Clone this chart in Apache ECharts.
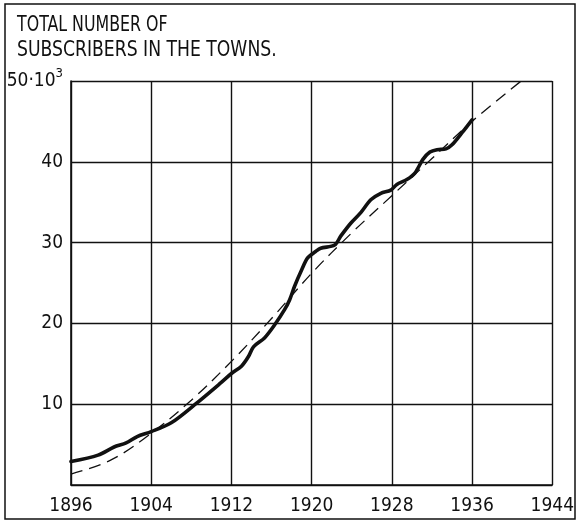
<!DOCTYPE html>
<html>
<head>
<meta charset="utf-8">
<script src="https://cdn.jsdelivr.net/npm/echarts@6/dist/echarts.min.js"></script>
<style>
  html, body { margin: 0; padding: 0; background: #fff; }
  #chart { width: 577px; height: 522px; }
</style>
</head>
<body>
<div id="chart"></div>
<script>
// Years and tick values
const yearTicks = [1896, 1904, 1912, 1920, 1928, 1936, 1944];
const valueTicks = [0, 10, 20, 30, 40, 50];

// Recorded number of subscribers (thousands) — [year, value]
const subscribers = [
  [1896, 2.9], [1898.7, 3.7], [1900.3, 4.7], [1901.5, 5.2], [1902.6, 6.0],
  [1904, 6.6], [1906, 7.7], [1908.4, 10.0], [1910.9, 12.6], [1912, 13.8],
  [1913, 14.7], [1913.7, 15.9], [1914.2, 17.1], [1915.3, 18.2], [1916.3, 19.8],
  [1917.3, 21.7], [1917.8, 22.9], [1918.3, 24.6], [1919, 26.6], [1919.6, 28.1],
  [1920.4, 28.9], [1920.9, 29.3], [1922.3, 29.7], [1922.9, 30.8], [1923.9, 32.4],
  [1924.9, 33.7], [1925.9, 35.3], [1926.9, 36.1], [1927.9, 36.5], [1928.5, 37.2],
  [1929.5, 37.8], [1930.3, 38.6], [1931.1, 40.3], [1931.8, 41.2], [1932.5, 41.5],
  [1933.4, 41.6], [1934, 42.1], [1935, 43.6], [1936, 45.2]
];

// Smoothed trend curve (thousands) — [year, value]
const trend = [
  [1896, 1.35], [1900, 3.1], [1904, 6.4], [1908, 10.5], [1912, 15.3],
  [1916, 20.6], [1920, 26.2], [1924, 31.2], [1928, 35.8], [1932, 40.4],
  [1936, 45.0], [1940.9, 50]
];

const titleLines = ['TOTAL NUMBER OF', 'SUBSCRIBERS IN THE TOWNS.'];

const FONT = '"DejaVu Sans Condensed", "DejaVu Sans", sans-serif';
const INK = '#111';

const chart = echarts.init(document.getElementById('chart'), null, { renderer: 'canvas' });

chart.setOption({
  animation: false,
  backgroundColor: '#fff',
  grid: { left: 71, right: 20, top: 81, bottom: 37, containLabel: false },
  xAxis: {
    type: 'value',
    min: yearTicks[0],
    max: yearTicks[yearTicks.length - 1],
    interval: yearTicks[1] - yearTicks[0],
    axisLine: { show: true, lineStyle: { color: INK, width: 1.6 } },
    axisTick: { show: false },
    splitLine: { show: true, lineStyle: { color: INK, width: 1.4 } },
    axisLabel: {
      margin: 12,
      fontFamily: FONT,
      fontSize: 19,
      color: INK,
      showMinLabel: true,
      showMaxLabel: true,
      formatter: v => String(v)
    }
  },
  yAxis: {
    type: 'value',
    min: valueTicks[0],
    max: valueTicks[valueTicks.length - 1],
    interval: valueTicks[1] - valueTicks[0],
    axisLine: { show: true, lineStyle: { color: INK, width: 1.6 } },
    axisTick: { show: false },
    splitLine: { show: true, lineStyle: { color: INK, width: 1.4 } },
    axisLabel: {
      margin: 8,
      fontFamily: FONT,
      fontSize: 19,
      color: INK,
      formatter: v => {
        if (v === 0) return '';
        if (v === valueTicks[valueTicks.length - 1]) return '{b|' + v + '·10}{s|3}';
        return String(v);
      },
      rich: {
        b: { fontFamily: FONT, fontSize: 19, color: INK },
        s: { fontFamily: FONT, fontSize: 13, color: INK, verticalAlign: 'top', padding: [0, 0, 14, 0] }
      }
    }
  },
  series: [
    {
      name: 'trend',
      type: 'line',
      data: trend,
      smooth: 0.35,
      showSymbol: false,
      symbol: 'none',
      lineStyle: { color: INK, width: 1.3, type: [12, 7] },
      z: 3
    },
    {
      name: 'subscribers',
      type: 'line',
      data: subscribers,
      smooth: 0.3,
      showSymbol: false,
      symbol: 'none',
      lineStyle: { color: INK, width: 3.6, join: 'round', cap: 'round' },
      z: 4
    }
  ],
  graphic: [
    {
      type: 'rect',
      shape: { x: 5, y: 4, width: 570, height: 515 },
      style: { fill: 'none', stroke: INK, lineWidth: 1.5 },
      silent: true
    },
    {
      type: 'text',
      x: 17, y: 14,
      scaleX: 0.8,
      style: { text: titleLines[0], font: '22px ' + FONT, fill: INK, textVerticalAlign: 'top' }
    },
    {
      type: 'text',
      x: 17, y: 39,
      scaleX: 0.87,
      style: { text: titleLines[1], font: '22px ' + FONT, fill: INK, textVerticalAlign: 'top' }
    }
  ]
});
</script>
</body>
</html>
